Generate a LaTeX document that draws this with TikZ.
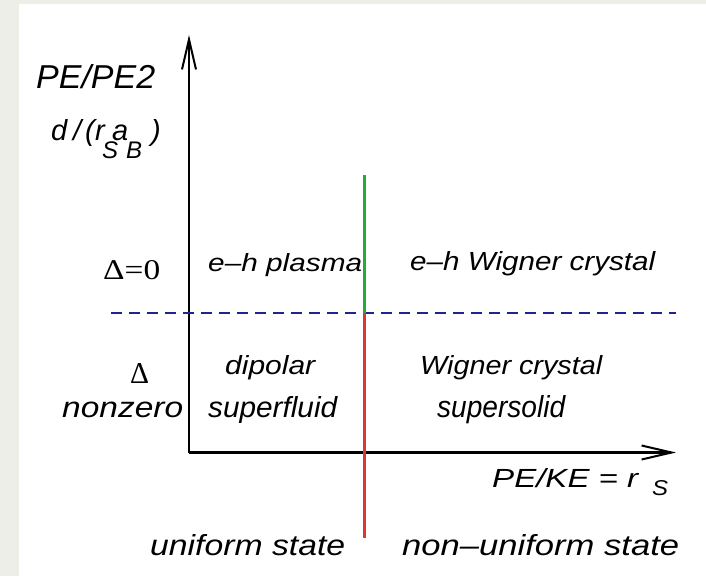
\documentclass[tikz,border=0pt]{standalone}
\usepackage{fontspec}
\setmainfont{Liberation Sans}
\newfontfamily\serifx{Liberation Serif}
\usetikzlibrary{arrows.meta}
\definecolor{framegray}{RGB}{238,238,233}
\definecolor{dashblue}{RGB}{35,35,140}
\definecolor{phgreen}{RGB}{40,170,55}
\definecolor{phred}{RGB}{220,55,50}
\newcommand\fitt[3]{\resizebox{#1pt}{#2pt}{#3}}
\begin{document}
\begin{tikzpicture}[x=1pt,y=-1pt,
  lbl/.style={inner sep=0pt, anchor=base west, font=\itshape},
  slbl/.style={inner sep=0pt, anchor=base west, font=\serifx},
  axis/.style={line width=2.2pt, color=black, -{Straight Barb[length=30pt,width=14pt,line width=2pt]}},
  phase/.style={line width=3.5pt}]
\useasboundingbox (0,0) rectangle (706,576);
\fill[framegray] (0,0) rectangle (706,576);
\fill[white] (19,4) rectangle (706,576);

% axes
\coordinate (origin) at (189,452.5);
\coordinate (ytip) at (189,35);
\coordinate (xtip) at (676,452.5);
\draw[axis] (origin) -- (ytip);
\draw[axis] (origin) -- (xtip);

% dashed line
\coordinate (dl) at (111,313);
\coordinate (dr) at (676,313);
\draw[dashblue, line width=2.6pt, dash pattern=on 11pt off 7pt] (dl) -- (dr);

% phase boundary
\coordinate (gtop) at (364.5,175);
\coordinate (mid) at (364.5,313);
\coordinate (rbot) at (364.5,538);
\draw[phase, phgreen] (gtop) -- (mid);
\draw[phase, phred] (mid) -- (rbot);

% y-axis labels
\node[lbl] (pepe2) at (36,88) {\fitt{119}{24}{PE/PE2}};
\node[lbl, font=\itshape\fontsize{29}{29}\selectfont] (dd) at (51,140) {d};
\node[lbl, font=\itshape\fontsize{29}{29}\selectfont] (slash) at (73,140) {/};
\node[lbl, font=\itshape\fontsize{29}{29}\selectfont] (lpar) at (85,140) {(};
\node[lbl, font=\itshape\fontsize{29}{29}\selectfont] (rr) at (95,140) {r};
\node[lbl, font=\itshape\fontsize{24}{24}\selectfont] (subS) at (102,158) {S};
\node[lbl, font=\itshape\fontsize{29}{29}\selectfont] (aa) at (112,140) {a};
\node[lbl, font=\itshape\fontsize{24}{24}\selectfont] (subB) at (126,158) {B};
\node[lbl, font=\itshape\fontsize{29}{29}\selectfont] (rpar) at (151,140) {)};

\node[slbl] (delta0) at (103,279) {\fitt{57}{19}{Δ=0}};
\node[slbl] (delta) at (130,383) {\fitt{19}{20}{Δ}};
\node[lbl] (nonzero) at (62,417) {\fitt{121}{15.5}{nonzero}};

% region labels
\node[lbl] (plasma) at (208,271) {\fitt{154}{18}{e–h plasma}};
\node[lbl] (ehwc) at (410,270) {\fitt{245}{19}{e–h Wigner crystal}};
\node[lbl] (dipolar) at (225,374) {\fitt{90}{19}{dipolar}};
\node[lbl] (superfluid) at (208,417) {\fitt{129}{21}{superfluid}};
\node[lbl] (wc) at (420,374) {\fitt{182}{19}{Wigner crystal}};
\node[lbl] (supersolid) at (437,417) {\fitt{128}{22}{supersolid}};

% x-axis label
\node[lbl] (pcke) at (492,487) {\fitt{146}{19}{PE/KE = r}};
\node[lbl] (subS2) at (652,495) {\fitt{16}{15}{S}};

% bottom labels
\node[lbl] (uniform) at (150,555) {\fitt{195}{21}{uniform state}};
\node[lbl] (nonuniform) at (402,555) {\fitt{277}{21}{non–uniform state}};
\end{tikzpicture}
\end{document}
